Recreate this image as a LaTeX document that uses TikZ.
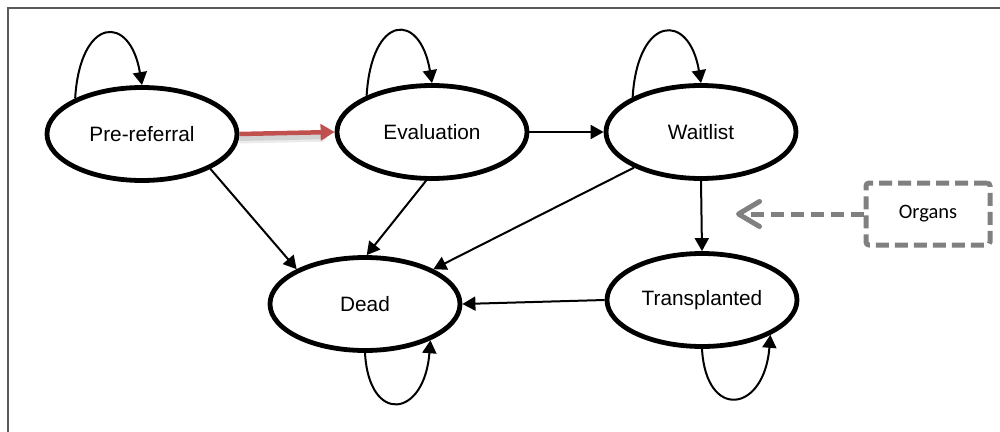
\documentclass[tikz,border=0pt]{standalone}
\usepackage{fontspec}
\setmainfont{Liberation Sans}
\newfontfamily\calibrifont{Carlito}
\usetikzlibrary{shapes.geometric,arrows.meta}

\definecolor{framegray}{HTML}{595959}
\definecolor{dashgray}{HTML}{808080}
\definecolor{flowred}{HTML}{C0504D}

\tikzset{
  state/.style={ellipse, draw=black, line width=4.8pt, fill=white,
    minimum width=190pt, minimum height=93pt, inner sep=0pt,
    font=\fontsize{20.8}{25}\selectfont},
  trans/.style={draw=black, line width=2pt, -{Triangle[length=13pt,width=14pt]}},
  selfloop/.style={trans},
  redflow/.style={draw=flowred, line width=4.5pt, -{Triangle[length=14pt,width=16pt]}},
  supplybox/.style={draw=dashgray, line width=5pt, dash pattern=on 13pt off 6pt,
    rounded corners=3pt, minimum width=124pt, minimum height=62pt,
    font=\calibrifont\fontsize{20.5}{24}\selectfont},
  supplyarrow/.style={draw=dashgray, line width=5pt, dash pattern=on 13pt off 7pt,
    -{Straight Barb[length=21pt,width=25pt,round]}},
}

\begin{document}
\begin{tikzpicture}[x=1pt,y=-1pt]
  \useasboundingbox (0,0) rectangle (1000,431);

  % outer frame (left and top edges)
  \coordinate (fbl) at (8,432);
  \coordinate (ftl) at (8,8);
  \coordinate (ftr) at (1001,8);
  \draw[framegray, line width=2.3pt] (fbl) -- (ftl) -- (ftr);

  % states
  \node[state] (pre)   at (142,134) {Pre-referral};
  \node[state] (eval)  at (432,132) {Evaluation};
  \node[state] (wait)  at (701,132) {Waitlist};
  \node[state] (dead)  at (365,304) {Dead};
  \node[state] (tx)    at (702,300) {Transplanted};

  % organ supply
  \node[supplybox] (organs) at (928,214) {Organs};
  \coordinate (organtip) at (736,214);
  \draw[supplyarrow] (organs.west) -- (organtip);

  % highlighted transition with soft shadow
  \draw[black!40, opacity=0.3, line width=6pt, shorten >=8pt]
    ([yshift=-4pt]pre.east) -- ([yshift=-4pt]eval.west);
  \draw[black!40, opacity=0.2, line width=9pt, shorten >=10pt]
    ([yshift=-5pt]pre.east) -- ([yshift=-5pt]eval.west);
  \draw[redflow] (pre.east) -- (eval.west);

  % transitions
  \draw[trans] (eval.east) -- (wait.west);
  \draw[trans] (pre.333) -- (dead.153);
  \draw[trans] (eval.263) -- (dead.88);
  \draw[trans] (wait.208) -- (dead.27);
  \draw[trans] (wait.south) -- (tx.north);
  \draw[trans] (tx.west) -- (dead.east);

  % self transitions on top row
  \draw[selfloop] (pre.152)  .. controls +(5,-82) and +(-12,-72) .. (pre.north);
  \draw[selfloop] (eval.151) .. controls +(5,-82) and +(-12,-72) .. (eval.north);
  \draw[selfloop] (wait.153) .. controls +(5,-82) and +(-12,-72) .. (wait.north);

  % self transitions on bottom row
  \draw[selfloop] (dead.south) .. controls +(4,72) and +(-6,78) .. (dead.331);
  \draw[selfloop] (tx.south)   .. controls +(4,72) and +(-6,78) .. (tx.333);
\end{tikzpicture}
\end{document}
